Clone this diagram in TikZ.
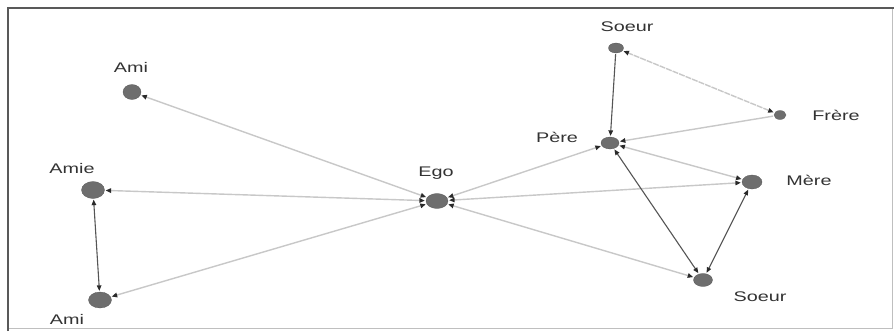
\documentclass[tikz,border=0pt]{standalone}
\usepackage{fontspec}
\setmainfont{Liberation Sans}
\usetikzlibrary{arrows.meta,shapes.geometric}
\definecolor{nodegray}{HTML}{6E6E6E}
\definecolor{lightedge}{HTML}{C8C8C8}
\definecolor{darkedge}{HTML}{555555}
\definecolor{tipcol}{HTML}{2A2A2A}
\definecolor{txtcol}{HTML}{333333}
\newcommand{\lbltext}[1]{\scalebox{1.42}[1]{#1}}
\tikzset{
  vert/.style={ellipse, fill=nodegray, draw=nodegray!80!black, line width=0.3pt, inner sep=0pt},
  lbl/.style={font=\fontsize{14}{16}\selectfont, text=txtcol, inner sep=0pt},
  tipA/.tip={Triangle[length=5.5bp,width=4.5bp,fill=tipcol,color=tipcol]},
  ledge/.style={draw=lightedge, line width=1.4bp, {tipA}-{tipA}, shorten <=1bp, shorten >=1bp},
  dedge/.style={draw=darkedge, line width=1.1bp, {tipA}-{tipA}, shorten <=1bp, shorten >=1bp},
}
\begin{document}
\begin{tikzpicture}[x=1bp,y=-1bp]
\useasboundingbox (0,0) rectangle (894,334);
\fill[white] (0,0) rectangle (894,334);
% frame
\draw[black!25, line width=0.8bp] (8,328) -- (892,328) -- (892,8);
\draw[black!65, line width=1.6bp] (8,331) -- (8,8) -- (894,8);
% nodes
\node[vert, minimum width=22bp, minimum height=15bp] (ego) at (437,201) {};
\node[vert, minimum width=18bp, minimum height=15bp] (ami1) at (132,92) {};
\node[vert, minimum width=23bp, minimum height=17bp] (amie) at (93,190) {};
\node[vert, minimum width=23bp, minimum height=16bp] (ami2) at (100,300) {};
\node[vert, minimum width=15bp, minimum height=10bp] (soeur1) at (616,48) {};
\node[vert, minimum width=12bp, minimum height=9bp] (frere) at (780,115) {};
\node[vert, minimum width=18bp, minimum height=12bp] (pere) at (610,143) {};
\node[vert, minimum width=20bp, minimum height=14bp] (mere) at (752,182) {};
\node[vert, minimum width=19bp, minimum height=13bp] (soeur2) at (703,280) {};
% labels
\node[lbl] (lego) at (436,173) {\lbltext{Ego}};
\node[lbl] (lami1) at (131,67) {\lbltext{Ami}};
\node[lbl] (lamie) at (72,169) {\lbltext{Amie}};
\node[lbl] (lami2) at (67,319) {\lbltext{Ami}};
\node[lbl] (lsoeur1) at (627,27) {\lbltext{Soeur}};
\node[lbl] (lfrere) at (836,115) {\lbltext{Frère}};
\node[lbl] (lpere) at (557,137) {\lbltext{Père}};
\node[lbl] (lmere) at (809,180) {\lbltext{Mère}};
\node[lbl] (lsoeur2) at (760,297) {\lbltext{Soeur}};
% edges
\draw[ledge] (ego) -- (ami1);
\draw[ledge] (ego) -- (amie);
\draw[ledge] (ego) -- (ami2);
\draw[ledge] (ego) -- (pere);
\draw[ledge] (ego) -- (mere);
\draw[ledge] (ego) -- (soeur2);
\draw[dedge] (amie) -- (ami2);
\draw[dedge, -{tipA}] (soeur1) -- (pere);
\draw[ledge, dash pattern=on 6bp off 1bp] (frere) -- (soeur1);
\draw[ledge, -{tipA}] (frere) -- (pere);
\draw[ledge] (pere) -- (mere);
\draw[dedge] (pere) -- (soeur2);
\draw[dedge] (mere) -- (soeur2);
\end{tikzpicture}
\end{document}
